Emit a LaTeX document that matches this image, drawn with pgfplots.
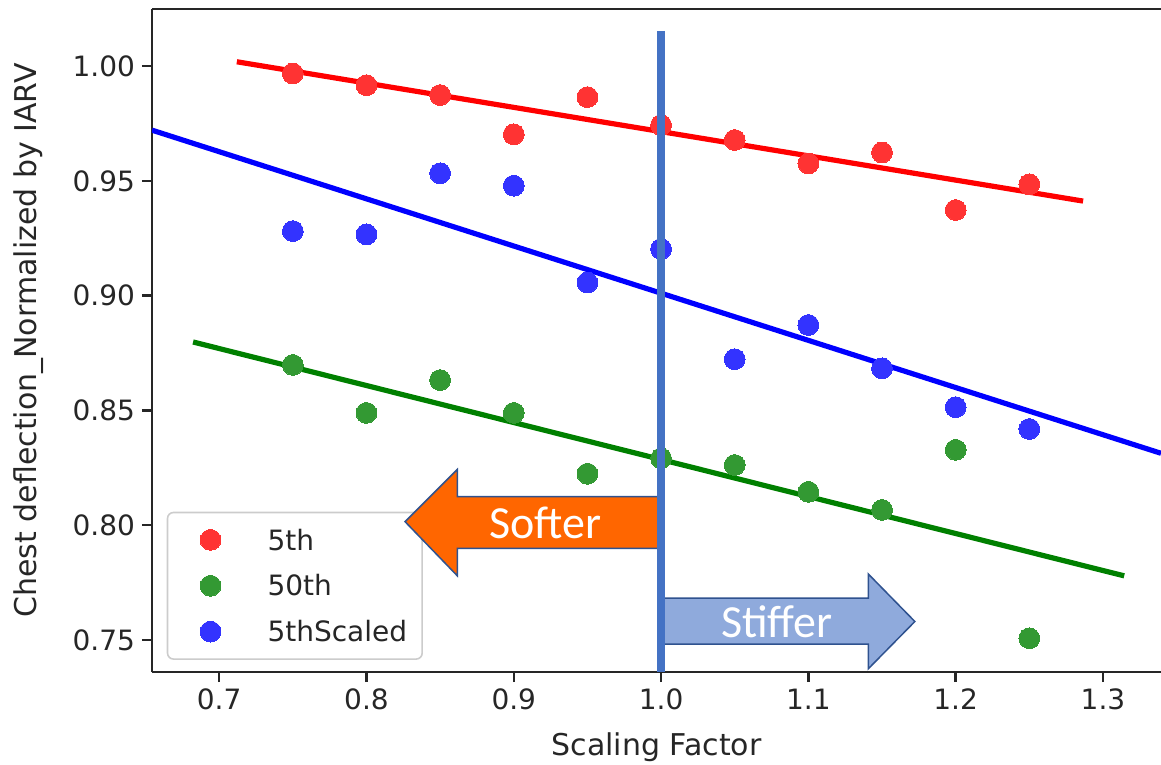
\documentclass[border=0pt]{standalone}
\usepackage{pgfplots}
\pgfplotsset{compat=1.18}
\usepackage{fontspec}
\setmainfont{DejaVu Sans}
\newfontfamily\calib{Carlito}
\definecolor{ptred}{RGB}{255,51,51}
\definecolor{ptgreen}{RGB}{51,153,51}
\definecolor{ptblue}{RGB}{51,51,255}
\definecolor{lgreen}{RGB}{0,128,0}
\definecolor{vline}{HTML}{4472C4}
\definecolor{softer}{HTML}{FF6600}
\definecolor{stiffer}{HTML}{8FAADC}
\definecolor{outl}{HTML}{2F528F}
\definecolor{spine}{RGB}{38,38,38}
\definecolor{lgdgray}{RGB}{204,204,204}

\pgfplotstableread{
x y
0.75 0.9968
0.80 0.9917
0.85 0.9874
0.90 0.9703
0.95 0.9865
1.00 0.9743
1.05 0.9678
1.10 0.9576
1.15 0.9624
1.20 0.9373
1.25 0.9485
}\fifth
\pgfplotstableread{
x y
0.75 0.8698
0.80 0.8489
0.85 0.8632
0.90 0.8489
0.95 0.8224
1.00 0.8291
1.05 0.8262
1.10 0.8145
1.15 0.8066
1.20 0.8328
1.25 0.7507
}\fiftieth
\pgfplotstableread{
x y
0.75 0.9281
0.80 0.9267
0.85 0.9533
0.90 0.9479
0.95 0.9057
1.00 0.9203
1.05 0.8723
1.10 0.8872
1.15 0.8683
1.20 0.8514
1.25 0.8419
}\fifthscaled

\pgfplotsset{
  dots/.style={draw=none, mark=*, mark size=5.2pt,
    mark options={draw=#1, fill=#1, line width=0pt}},
}

\begin{document}
\begin{tikzpicture}
\begin{axis}[
  scale only axis, width=504.5pt, height=331.5pt,
  xmin=0.6544, xmax=1.3394, ymin=0.736, ymax=1.0249,
  axis x line*=box, axis y line*=left,
  axis line style={spine, line width=1.2pt},
  xtick={0.7,0.8,0.9,1.0,1.1,1.2,1.3},
  xticklabels={0.7,0.8,0.9,1.0,1.1,1.2,1.3},
  ytick={0.75,0.80,0.85,0.90,0.95,1.00},
  yticklabels={0.75,0.80,0.85,0.90,0.95,1.00},
  xtick pos=left, ytick pos=left,
  tick align=outside, major tick length=5pt,
  tick style={spine, line width=1.2pt},
  tick label style={font=\fontsize{14}{16}\selectfont, text=spine},
  xlabel={Scaling Factor},
  ylabel={Chest deflection\_Normalized by IARV},
  label style={font=\fontsize{15}{17}\selectfont, text=spine},
  xlabel style={at={(axis description cs:0.5,-0.1139)}, anchor=center},
  ylabel style={at={(axis description cs:-0.1219,0.5)}, anchor=center},
  legend cell align=left,
  legend image code/.code={\draw[mark repeat=2,mark phase=2,#1,draw=none] plot coordinates {(0pt,0pt) (14pt,0pt) (28pt,0pt)};},
  legend style={at={(axis description cs:0.0146,0.2418)}, anchor=north west,
    draw=lgdgray, line width=0.8pt, rounded corners=3pt, fill=white,
    font=\fontsize{14}{16}\selectfont, text=spine,
    inner xsep=7.5pt, inner ysep=8.5pt, row sep=12.55pt, column sep=14.5pt,
    nodes={inner sep=0pt, text height=10.2pt, text depth=0pt}},
]
\addplot[dots=ptred] table[x=x,y=y] {\fifth};
\addlegendentry{5th}
\addplot[red, line width=2.6pt, forget plot] coordinates {(0.7120,1.0019) (1.2865,0.9412)};
\addplot[dots=ptgreen] table[x=x,y=y] {\fiftieth};
\addlegendentry{50th}
\addplot[lgreen, line width=2.6pt, forget plot] coordinates {(0.6823,0.8798) (1.3144,0.7779)};
\addplot[dots=ptblue] table[x=x,y=y] {\fifthscaled};
\addlegendentry{5thScaled}
\addplot[blue, line width=2.6pt, forget plot] coordinates {(0.6544,0.9721) (1.3394,0.8313)};

\coordinate (a1) at (axis cs:0.999,0.8124);
\coordinate (a2) at (axis cs:0.8617,0.8124);
\coordinate (a3) at (axis cs:0.8617,0.8243);
\coordinate (a4) at (axis cs:0.8262,0.8015);
\coordinate (a5) at (axis cs:0.8617,0.7779);
\coordinate (a6) at (axis cs:0.8617,0.7899);
\coordinate (a7) at (axis cs:0.999,0.7899);
\coordinate (b1) at (axis cs:1.0007,0.7682);
\coordinate (b2) at (axis cs:1.1407,0.7682);
\coordinate (b3) at (axis cs:1.1407,0.7787);
\coordinate (b4) at (axis cs:1.1723,0.7580);
\coordinate (b5) at (axis cs:1.1407,0.7374);
\coordinate (b6) at (axis cs:1.1407,0.7481);
\coordinate (b7) at (axis cs:1.0007,0.7481);
\coordinate (ts) at (axis cs:0.9216,0.8010);
\coordinate (tt) at (axis cs:1.0785,0.7580);
\coordinate (vt) at (axis cs:1.0,1.0154);
\coordinate (vb) at (axis cs:1.0,0.736);
\end{axis}
\draw[outl, line width=0.75pt, fill=softer, line join=miter] (a1) -- (a2) -- (a3) -- (a4) -- (a5) -- (a6) -- (a7) -- cycle;
\draw[outl, line width=0.75pt, fill=stiffer, line join=miter] (b1) -- (b2) -- (b3) -- (b4) -- (b5) -- (b6) -- (b7) -- cycle;
\node[text=white, font=\calib\fontsize{23}{26}\selectfont, inner sep=0pt] at (ts) {Softer};
\node[text=white, font=\calib\fontsize{23}{26}\selectfont, inner sep=0pt] at (tt) {Stiffer};
\draw[vline, line width=4pt] (vt) -- (vb);
\pgfresetboundingbox
\path[use as bounding box] ([xshift=-76pt,yshift=-46.5pt]current axis.south west) rectangle ([yshift=4.5pt]current axis.north east);
\end{tikzpicture}
\end{document}
